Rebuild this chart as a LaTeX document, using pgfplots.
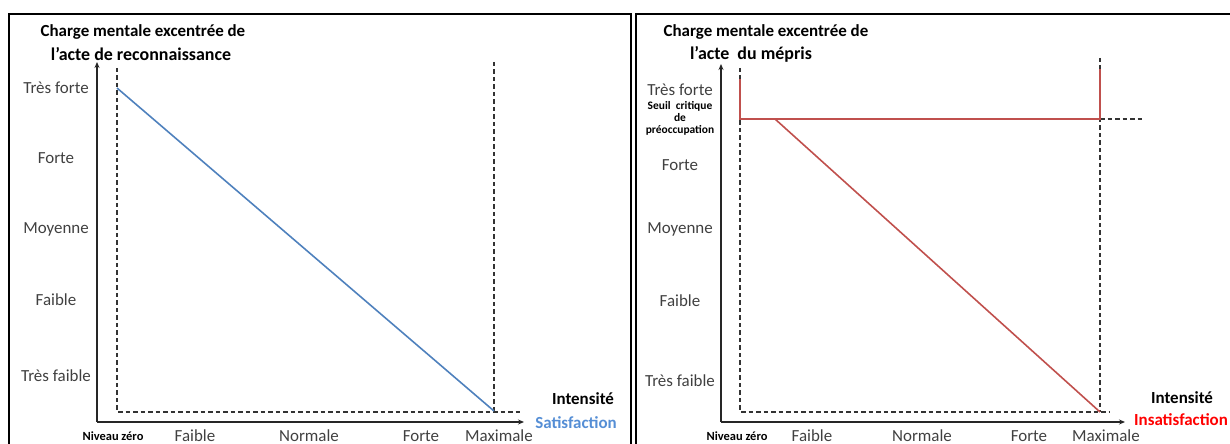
\documentclass[border=0pt]{standalone}
\usepackage{fontspec}
\setmainfont{Carlito}
\usepackage{pgfplots}
\pgfplotsset{compat=1.18}
\usetikzlibrary{arrows.meta}
\definecolor{satblue}{HTML}{4F81BD}
\definecolor{satlabel}{HTML}{558ED5}
\definecolor{insred}{HTML}{C0504D}
\definecolor{txtgray}{HTML}{404040}

\pgfplotsset{
  panel/.style={
    x=1bp, y=1bp, xmin=0, ymin=0,
    anchor=south west,
    axis x line=bottom, axis y line=left,
    axis line style={line width=1.3bp, black!85, -{Stealth[length=6bp,width=5bp]}},
    major tick length=0pt,
    clip=false,
    tick label style={font=\fontsize{17}{17}\selectfont, text=txtgray},
    yticklabel style={anchor=center, xshift=-41bp},
    xticklabel style={anchor=center, yshift=-14bp},
  },
  guide/.style={black!80, line width=1.2bp, dash pattern=on 4.5bp off 3bp},
}
\newcommand{\ttl}{\fontsize{17}{17}\selectfont\bfseries}
\newcommand{\ttlb}{\fontsize{18}{18}\selectfont\bfseries}
\newcommand{\zero}{{\fontsize{12.5}{12.5}\selectfont\bfseries\color{black}Niveau zéro}}
\newcommand{\seuil}{{\fontsize{11.5}{12}\selectfont\bfseries\color{black}%
  \begin{tabular}{@{}c@{}}Seuil\ \ critique\\de\\préoccupation\end{tabular}}}

\begin{document}
\begin{tikzpicture}[x=1bp, y=1bp]
\useasboundingbox (0,0) rectangle (1230,444);
% panel frames
\draw[line width=2bp] (9,-10) -- (9,430) -- (631,430) -- (631,-10);
\draw[line width=2bp] (636,-10) -- (636,430) -- (1240,430);

% left: acte de reconnaissance
\begin{axis}[panel, at={(97,22)}, xmax=427, ymax=360,
    xtick={16,98,212,324,402},
    xticklabels={\zero, Faible, Normale, Forte, Maximale},
    ytick={46,122,193,264,334},
    yticklabels={Très faible, Faible, Moyenne, Forte, Très forte}]
\addplot[guide] coordinates {(20,354) (20,10) (425,10)};
\addplot[guide] coordinates {(397,360) (397,10)};
\addplot[satblue, line width=1.6bp] coordinates {(20,334) (397,11)};
\node[font=\ttl] at (axis cs:46,390) {Charge mentale excentrée de};
\node[font=\ttlb] at (axis cs:44,368) {l’acte de reconnaissance};
\node[font=\ttl] at (axis cs:486,23) {Intensité};
\node[font=\ttl, text=satlabel] at (axis cs:479,-1) {Satisfaction};
\end{axis}

% right: acte du mepris
\begin{axis}[panel, at={(721,22)}, xmax=404, ymax=358,
    xtick={16,91,201,308,385},
    xticklabels={\zero, Faible, Normale, Forte, Maximale},
    ytick={41,121,193,257,303,332},
    yticklabels={Très faible, Faible, Moyenne, Forte, \seuil, Très forte}]
\addplot[guide] coordinates {(19,354) (19,10) (389,10)};
\addplot[guide] coordinates {(379,364) (379,10)};
\addplot[guide] coordinates {(19,303) (421,303)};
\addplot[insred, line width=1.8bp] coordinates {(19,343) (19,303) (379,303) (379,353)};
\addplot[insred, line width=1.6bp] coordinates {(54,303) (379,10)};
\node[font=\ttl] at (axis cs:45,390) {Charge mentale excentrée de};
\node[font=\ttlb] at (axis cs:30,368) {l’acte\ \ du mépris};
\node[font=\ttl] at (axis cs:461,24) {Intensité};
\node[font=\ttl, text=red] at (axis cs:460,2) {Insatisfaction};
\end{axis}
\end{tikzpicture}
\end{document}
